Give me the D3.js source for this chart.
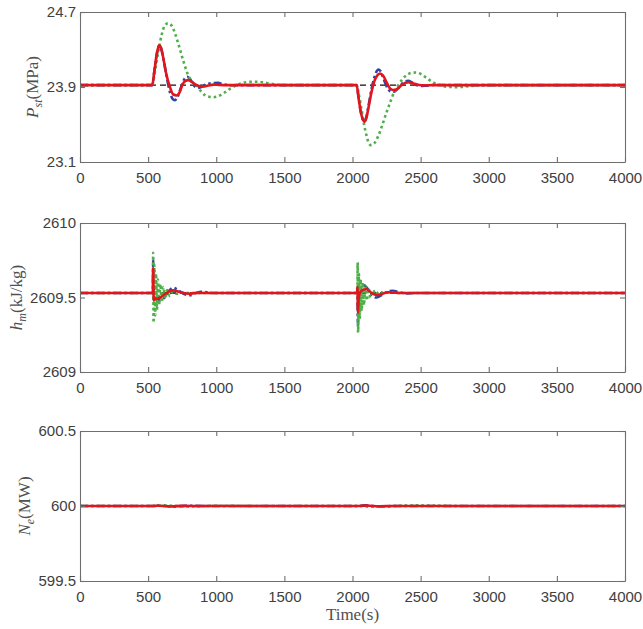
<!DOCTYPE html>
<html>
<head>
<meta charset="utf-8">
<script src="https://cdn.jsdelivr.net/npm/d3@7"></script>
<style>
  html, body { margin: 0; padding: 0; background: #fff; }
  svg { display: block; }
</style>
</head>
<body>
<svg id="chart" width="643" height="629"></svg>
<script>
// ---------------- DATA ----------------
const xTicks = [0, 500, 1000, 1500, 2000, 2500, 3000, 3500, 4000];
const pstTicks = [23.1, 23.9, 24.7];
const hmTicks = [2609, 2609.5, 2610];
const neTicks = [599.5, 600, 600.5];

// Panel 1: main steam pressure P_st (MPa)
const pstRefT = [0, 4000];
const pstRefV = [23.92, 23.92];

const pstBlueT = [0, 530, 545, 560, 572, 582, 595, 615, 640, 665, 685, 697, 715, 740, 765, 788, 810, 840, 865, 890, 930, 970, 1013, 1050, 1100, 1150,
  2030, 2045, 2060, 2075, 2087, 2100, 2120, 2140, 2160, 2178, 2190, 2205, 2230, 2260, 2285, 2305, 2330, 2360, 2385, 2408, 2440, 2470, 2500, 2540, 2600, 2700, 4000];
const pstBlueV = [23.92, 23.92, 24.06, 24.22, 24.31, 24.345, 24.31, 24.18, 23.98, 23.82, 23.765, 23.76, 23.79, 23.89, 23.98, 24.01, 23.98, 23.91, 23.89, 23.90, 23.93, 23.942, 23.944, 23.93, 23.918, 23.92,
  23.92, 23.78, 23.64, 23.555, 23.53, 23.57, 23.72, 23.88, 24.00, 24.07, 24.087, 24.07, 23.98, 23.88, 23.852, 23.85, 23.88, 23.93, 23.96, 23.965, 23.945, 23.92, 23.91, 23.915, 23.922, 23.92, 23.92];

const pstGreenT = [0, 530, 545, 560, 580, 600, 620, 648, 675, 700, 730, 760, 790, 820, 856, 890, 920, 950, 978, 1010, 1050, 1100, 1150, 1200, 1250, 1297, 1350, 1400, 1450, 1500,
  2030, 2045, 2065, 2085, 2105, 2120, 2136, 2160, 2190, 2220, 2250, 2280, 2310, 2336, 2370, 2400, 2430, 2466, 2500, 2540, 2580, 2620, 2642, 2680, 2720, 2760, 2801, 2850, 2900, 2950, 4000];
const pstGreenV = [23.92, 23.92, 24.02, 24.15, 24.32, 24.46, 24.55, 24.58, 24.55, 24.46, 24.32, 24.17, 24.04, 23.96, 23.92, 23.85, 23.81, 23.795, 23.79, 23.80, 23.83, 23.88, 23.92, 23.945, 23.955, 23.955, 23.948, 23.935, 23.925, 23.92,
  23.92, 23.83, 23.67, 23.50, 23.37, 23.30, 23.28, 23.30, 23.38, 23.50, 23.63, 23.75, 23.86, 23.92, 23.99, 24.03, 24.05, 24.055, 24.04, 24.00, 23.96, 23.93, 23.92, 23.905, 23.90, 23.898, 23.90, 23.908, 23.915, 23.92, 23.92];

const pstRedT = [0, 530, 545, 560, 572, 582, 595, 610, 630, 660, 685, 710, 730, 750, 775, 796, 820, 850, 880, 905, 940, 980, 1020, 1100,
  2030, 2045, 2060, 2075, 2087, 2100, 2120, 2140, 2160, 2180, 2202, 2225, 2250, 2275, 2300, 2330, 2360, 2390, 2410, 2440, 2480, 2530, 2600, 4000];
const pstRedV = [23.92, 23.92, 24.06, 24.22, 24.31, 24.345, 24.32, 24.22, 24.06, 23.90, 23.82, 23.81, 23.84, 23.92, 23.965, 23.973, 23.955, 23.925, 23.908, 23.905, 23.915, 23.925, 23.922, 23.92,
  23.92, 23.78, 23.64, 23.555, 23.53, 23.56, 23.70, 23.85, 23.96, 24.02, 24.044, 24.02, 23.95, 23.885, 23.867, 23.88, 23.92, 23.945, 23.95, 23.94, 23.925, 23.918, 23.92, 23.92];

// Panel 2: enthalpy h_m (kJ/kg)
const hmRefT = [0, 4000];
const hmRefV = [2609.53, 2609.53];

const hmBlueT = [0, 535, 537, 541, 550, 570, 590, 620, 650, 683, 720, 760, 807, 850, 890, 930, 980, 2034, 2036, 2040, 2046, 2060, 2075, 2100, 2140, 2175, 2220, 2260, 2295, 2340, 2400, 2460, 4000];
const hmBlueV = [2609.53, 2609.53, 2609.75, 2609.47, 2609.49, 2609.485, 2609.48, 2609.50, 2609.54, 2609.565, 2609.55, 2609.525, 2609.515, 2609.53, 2609.538, 2609.535, 2609.53, 2609.53, 2609.56, 2609.31, 2609.48, 2609.56, 2609.585, 2609.57, 2609.52, 2609.50, 2609.52, 2609.54, 2609.545, 2609.535, 2609.528, 2609.53, 2609.53];

const hmGreenT = [0, 535, 537, 540, 546, 552, 558, 565, 572, 580, 590, 600, 612, 625, 640, 660, 680, 710, 750, 800,
  2036, 2038, 2041, 2047, 2053, 2060, 2067, 2075, 2084, 2094, 2105, 2118, 2132, 2150, 2170, 2195, 2230, 2280, 2330, 4000];
const hmGreenV = [2609.53, 2609.53, 2609.80, 2609.33, 2609.72, 2609.38, 2609.66, 2609.42, 2609.62, 2609.45, 2609.59, 2609.47, 2609.57, 2609.49, 2609.55, 2609.51, 2609.54, 2609.525, 2609.535, 2609.53,
  2609.53, 2609.735, 2609.265, 2609.66, 2609.36, 2609.62, 2609.41, 2609.60, 2609.45, 2609.58, 2609.48, 2609.56, 2609.50, 2609.55, 2609.52, 2609.54, 2609.53, 2609.535, 2609.53, 2609.53];

const hmRedT = [0, 535, 537, 541, 548, 560, 587, 620, 650, 683, 720, 760, 800, 850, 2034, 2036, 2040, 2046, 2060, 2100, 2140, 2175, 2220, 2260, 2300, 2350, 4000];
const hmRedV = [2609.53, 2609.53, 2609.70, 2609.48, 2609.50, 2609.49, 2609.50, 2609.52, 2609.54, 2609.548, 2609.54, 2609.53, 2609.525, 2609.53, 2609.53, 2609.57, 2609.40, 2609.50, 2609.54, 2609.557, 2609.53, 2609.517, 2609.525, 2609.535, 2609.533, 2609.53, 2609.53];

// Panel 3: electric power N_e (MW)
const neRefT = [0, 4000];
const neRefV = [600, 600];
const neBlueT = [0, 530, 580, 680, 780, 900, 2030, 2090, 2200, 2320, 4000];
const neBlueV = [600, 600, 600.003, 599.996, 600.002, 600, 600, 600.004, 599.997, 600, 600];
const neGreenT = [0, 530, 620, 800, 1000, 1300, 2030, 2140, 2450, 2800, 4000];
const neGreenV = [600, 600, 600.004, 599.996, 600.002, 600, 600, 599.995, 600.004, 600, 600];
const neRedT = [0, 530, 570, 660, 760, 900, 2030, 2100, 2200, 2300, 4000];
const neRedV = [600, 600, 600.002, 599.997, 600.001, 600, 600, 600.003, 599.998, 600, 600];

// ---------------- LAYOUT / STYLE ----------------
const svg = d3.select("#chart");
const left = 80, right = 625;
const panels = [
  { top: 12, bottom: 162, domain: [23.1, 24.7], ticks: pstTicks, fmt: d => d3.format(".1f")(d),
    series: [[pstRefT, pstRefV], [pstBlueT, pstBlueV], [pstGreenT, pstGreenV], [pstRedT, pstRedV]],
    label: { main: "P", sub: "st", unit: "(MPa)", x: 38 } },
  { top: 223, bottom: 372, domain: [2609, 2610], ticks: hmTicks, fmt: d => (d % 1 === 0 ? d3.format("d")(d) : d3.format(".1f")(d)),
    series: [[hmRefT, hmRefV], [hmBlueT, hmBlueV], [hmGreenT, hmGreenV], [hmRedT, hmRedV]],
    label: { main: "h", sub: "m", unit: "(kJ/kg)", x: 22 } },
  { top: 431, bottom: 581, domain: [599.5, 600.5], ticks: neTicks, fmt: d => (d % 1 === 0 ? d3.format("d")(d) : d3.format(".1f")(d)),
    series: [[neRefT, neRefV], [neBlueT, neBlueV], [neGreenT, neGreenV], [neRedT, neRedV]],
    label: { main: "N", sub: "e", unit: "(MW)", x: 30 } }
];

const styles = [
  { color: "#111111", width: 1.4, dash: "6,4", cap: "butt" },
  { color: "#2e45a0", width: 2.6, dash: "8,3,2.5,3", cap: "butt" },
  { color: "#4eaf48", width: 2.6, dash: "2.6,3", cap: "butt" },
  { color: "#e3141c", width: 2.6, dash: null, cap: "round" }
];

const axisColor = "#6f6f6f";
const textColor = "#404040";
const tickFont = "'Liberation Sans', Arial, Helvetica, sans-serif";
const serifFont = "'Liberation Serif', 'DejaVu Serif', serif";

const x = d3.scaleLinear().domain([0, 4000]).range([left, right]);

const defs = svg.append("defs");

panels.forEach((p, i) => {
  const y = d3.scaleLinear().domain(p.domain).range([p.bottom, p.top]);

  defs.append("clipPath").attr("id", "clip" + i)
    .append("rect").attr("x", left).attr("y", p.top - 2).attr("width", right - left).attr("height", p.bottom - p.top + 4);

  const g = svg.append("g");

  // lines
  const lg = g.append("g").attr("clip-path", `url(#clip${i})`);
  p.series.forEach((s, k) => {
    const [ts, vs] = s;
    const pts = ts.map((t, j) => [t, vs[j]]);
    const line = d3.line().x(d => x(d[0])).y(d => y(d[1])).curve(d3.curveMonotoneX);
    const st = styles[k];
    lg.append("path")
      .attr("d", line(pts))
      .attr("fill", "none")
      .attr("stroke", st.color)
      .attr("stroke-width", st.width)
      .attr("stroke-linecap", st.cap)
      .attr("stroke-linejoin", "round")
      .attr("stroke-dasharray", st.dash);
  });

  // axes
  const bottomAxis = d3.axisBottom(x).tickValues(xTicks).tickSizeInner(-5).tickSizeOuter(0).tickPadding(10).tickFormat(d3.format("d"));
  const topAxis = d3.axisTop(x).tickValues(xTicks).tickSizeInner(-5).tickSizeOuter(0).tickFormat("");
  const leftAxis = d3.axisLeft(y).tickValues(p.ticks).tickSizeInner(-5).tickSizeOuter(0).tickPadding(4).tickFormat(p.fmt);
  const rightAxis = d3.axisRight(y).tickValues(p.ticks).tickSizeInner(-5).tickSizeOuter(0).tickFormat("");

  const axes = [
    g.append("g").attr("transform", `translate(0,${p.bottom})`).call(bottomAxis),
    g.append("g").attr("transform", `translate(0,${p.top})`).call(topAxis),
    g.append("g").attr("transform", `translate(${left},0)`).call(leftAxis),
    g.append("g").attr("transform", `translate(${right},0)`).call(rightAxis)
  ];
  axes.forEach(a => {
    a.select(".domain").attr("stroke", axisColor).attr("stroke-width", 1.1);
    a.selectAll(".tick line").attr("stroke", axisColor).attr("stroke-width", 1.1);
    a.selectAll(".tick text").attr("fill", textColor).attr("font-family", tickFont).attr("font-size", 15);
  });

  // y label
  const lab = g.append("text")
    .attr("transform", `translate(${p.label.x},${(p.top + p.bottom) / 2}) rotate(-90)`)
    .attr("text-anchor", "middle")
    .attr("font-family", serifFont)
    .attr("font-size", 17)
    .attr("fill", "#505050");
  lab.append("tspan").attr("font-style", "italic").text(p.label.main);
  lab.append("tspan").attr("font-style", "italic").attr("font-size", 12).attr("dy", 4).text(p.label.sub);
  lab.append("tspan").attr("dy", -4).text(p.label.unit);
});

// x label
svg.append("text")
  .attr("x", (left + right) / 2)
  .attr("y", 620)
  .attr("text-anchor", "middle")
  .attr("font-family", serifFont)
  .attr("font-size", 17)
  .attr("fill", "#505050")
  .text("Time(s)");
</script>
</body>
</html>
